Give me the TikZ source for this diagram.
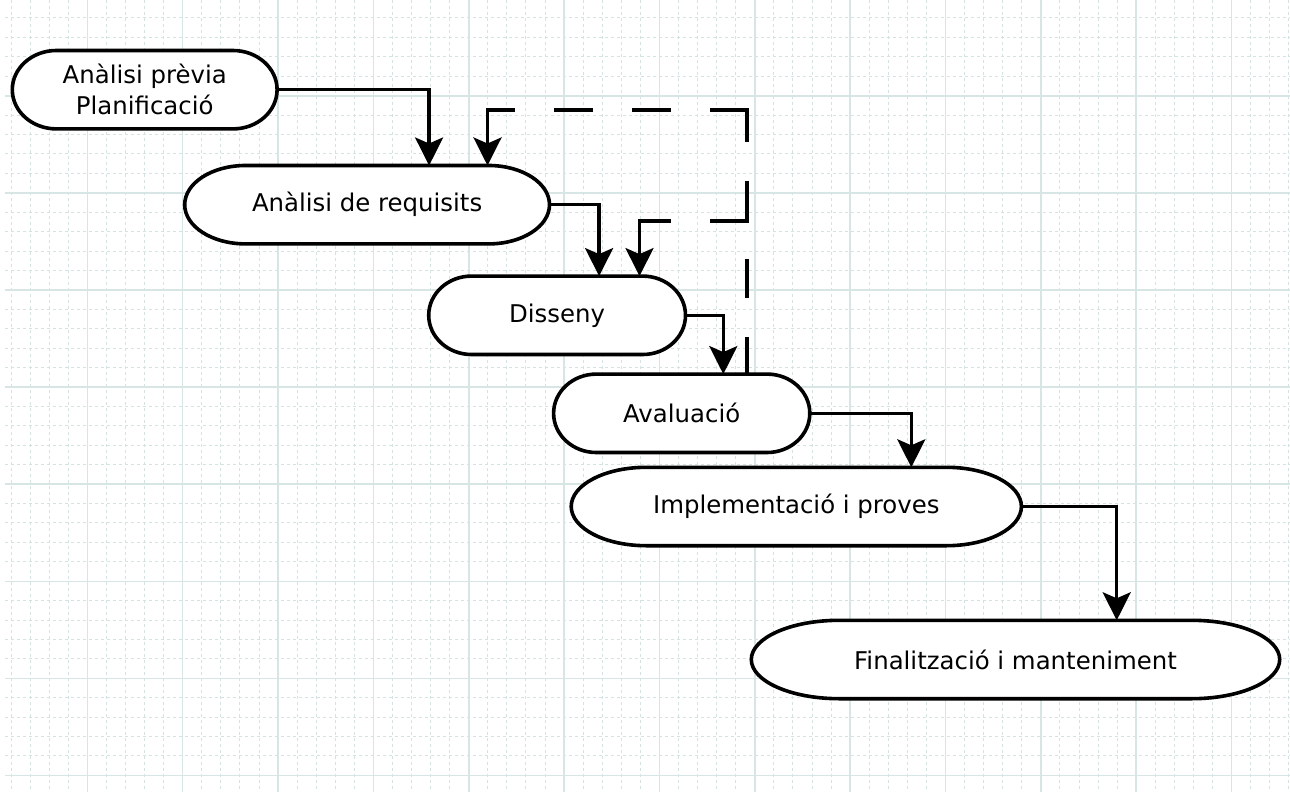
\documentclass[tikz,border=0pt]{standalone}
\usepackage{fontspec}
\newfontfamily\stagefont{DejaVu Sans}
\usepackage{tikz}
\usetikzlibrary{arrows.meta,calc,positioning}
\pgfdeclarelayer{grid}
\pgfdeclarelayer{shapes}
\pgfsetlayers{grid,shapes,main}
\definecolor{gridmajor}{RGB}{216,229,229}
\definecolor{gridminor}{RGB}{212,226,226}

\begin{document}
\begin{tikzpicture}[x=0.5pt,y=-0.5pt,on grid,>={Stealth[length=14pt,width=14pt,inset=3pt]}]
  \tikzstyle{stage}=[rectangle, inner sep=0pt, minimum height=38.8pt, align=center, font=\stagefont\fontsize{12.2}{15.5}\selectfont]
  \tikzstyle{outline}=[draw, fill=white, line width=1.8pt]
  \tikzstyle{flow}=[->, line width=1.7pt]
  \tikzstyle{feedback}=[line cap=rect, dash pattern=on 17.8pt off 21.2pt]

  \useasboundingbox (0,0) rectangle (1290,792);

  % grid
  \begin{pgfonlayer}{grid}
    \fill[white] (0,0) rectangle (1290,792);
    \foreach \i in {0,...,67}
      \draw[gridminor,line width=0.5pt,dash pattern=on 1.5pt off 1.5pt] (11.1+19.07*\i,0) -- (11.1+19.07*\i,792);
    \foreach \i in {0,...,39}
      \draw[gridminor,line width=0.5pt,dash pattern=on 1.5pt off 1.5pt] (5,18+19.42*\i) -- (1290,18+19.42*\i);
    \foreach \i in {0,...,12}
      \draw[gridmajor,line width=0.8pt] (87.3+95.35*\i,0) -- (87.3+95.35*\i,792);
    \foreach \i in {1,...,8}
      \draw[gridmajor,line width=0.8pt] (5,-1.3+97.1*\i) -- (1290,-1.3+97.1*\i);
  \end{pgfonlayer}

  \node[stage, minimum width=132pt] (prev) at (144.7,89.7) {Anàlisi prèvia\\Planificació};
  \node[stage, minimum width=182pt, below right=57.5pt and 111.2pt of prev] (req) {Anàlisi de requisits};
  \node[stage, minimum width=128pt, below right=55.3pt and 95pt of req] (dis) {Disseny};
  \node[stage, minimum width=127.7pt, below right=49pt and 62.3pt of dis] (aval) {Avaluació};
  \node[stage, minimum width=224.7pt, below right=46.6pt and 57.3pt of aval] (impl) {Implementació i proves};
  \node[stage, minimum width=263.8pt, below right=76.5pt and 109.6pt of impl] (fin) {Finalització i manteniment};

  % stadium outlines behind the texts
  \begin{pgfonlayer}{shapes}
    \foreach \s in {prev,req,dis,aval,impl,fin}
      \draw[outline] let \p1=(\s.north west), \p2=(\s.south east), \n1={(\x2-\x1)/6}, \n2={(\y1-\y2)/2} in
        (\x1+\n1,\y1) -- (\x2-\n1,\y1) arc[start angle=90, end angle=-90, x radius=\n1, y radius=\n2]
        -- (\x1+\n1,\y2) arc[start angle=270, end angle=90, x radius=\n1, y radius=\n2] -- cycle;
  \end{pgfonlayer}

  \draw[flow] (prev.east) -| ([xshift=31pt]req.north);
  \draw[flow] (req.east) -| ([xshift=21pt]dis.north);
  \draw[flow] (dis.east) -| ([xshift=20.8pt]aval.north);
  \draw[flow] (aval.east) -| ([xshift=57.5pt]impl.north);
  \draw[flow] (impl.east) -| ([xshift=50.6pt]fin.north);

  % back to earlier stages (dashes restart on every leg)
  \coordinate (fb) at ([xshift=32.7pt]aval.north);
  \coordinate (fbreq) at ([xshift=60.2pt]req.north);
  \coordinate (fbdis) at ([xshift=41.2pt]dis.north);
  \coordinate (fbtop) at ([yshift=27.7pt]fbreq);
  \coordinate (fbmid) at ([yshift=27.5pt]fbdis);
  \draw[flow,feedback] (fb) -- (fb |- fbtop) (fb |- fbtop) -- (fbtop) (fbtop) -- (fbreq);
  \draw[flow,feedback] (fb) -- (fb |- fbmid) (fb |- fbmid) -- (fbmid) (fbmid) -- (fbdis);
\end{tikzpicture}
\end{document}
